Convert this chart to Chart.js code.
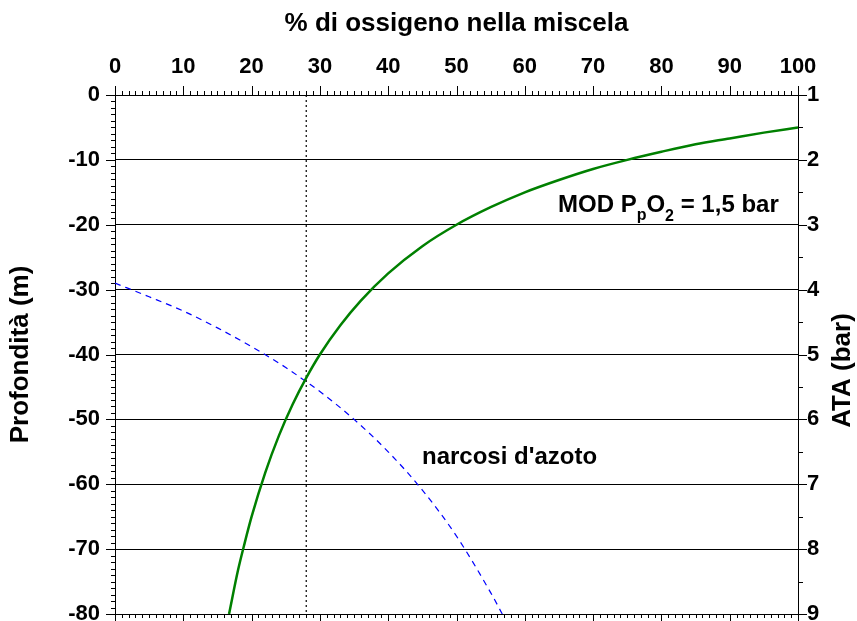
<!DOCTYPE html>
<html><head><meta charset="utf-8">
<script src="https://cdn.jsdelivr.net/npm/chart.js@4.4.1/dist/chart.umd.min.js"></script>
<style>html,body{margin:0;padding:0;background:#fff}</style>
</head><body>
<canvas id="c" width="857" height="621"></canvas>
<script>
// Curve MOD PpO2 = 1,5 bar (O2 % vs depth m)
const modO2 = [16.7, 18, 19, 20, 22, 24, 26, 28, 30, 33, 36, 40, 45, 50, 55, 60, 65, 70, 75, 80, 85, 90, 95, 100];
const modDepth = [-80, -73.3, -69, -65, -58.2, -52.5, -47.7, -43.6, -40, -35.5, -31.7, -27.5, -23.3, -20, -17.3, -15, -13.1, -11.4, -10, -8.75, -7.6, -6.7, -5.8, -5];
// Curve "narcosi d'azoto"
const narcO2 = [0, 5, 10, 15, 20, 25, 28, 30, 35, 40, 45, 50, 55, 56.7];
const narcDepth = [-29, -31.1, -33.3, -35.9, -38.8, -42, -44.2, -45.7, -50, -55, -60.9, -68, -76.7, -80];
// Vertical reference line at 28 %
const refO2 = [28, 28];
const refDepth = [0, -80];
// Tick labels
const o2Ticks = [0, 10, 20, 30, 40, 50, 60, 70, 80, 90, 100];
const depthTicks = [0, -10, -20, -30, -40, -50, -60, -70, -80];
const ataTicks = [1, 2, 3, 4, 5, 6, 7, 8, 9];
// Texts
const titleX = '% di ossigeno nella miscela';
const titleY = 'Profondità (m)';
const titleY2 = 'ATA (bar)';
const labelNarc = "narcosi d'azoto";

const FF = '"Liberation Sans", Arial, sans-serif';
const pts = (xs, ys) => xs.map((v, i) => ({x: v, y: ys[i]}));
const setTicks = arr => s => { s.ticks = arr.map(v => ({value: v})); };
const noPad = s => { s.paddingTop = 0; s.paddingBottom = 0; s.paddingLeft = 0; s.paddingRight = 0; };

const decor = {
  id: 'decor',
  afterDraw(chart) {
    const {ctx, chartArea: a, scales: {x, y, y2}} = chart;
    ctx.save();
    ctx.strokeStyle = '#000';
    ctx.lineWidth = 1;
    ctx.beginPath();
    for (let v = 0; v <= 100; v++) {
      const px = Math.round(x.getPixelForValue(v)) + 0.5;
      const L = v % 10 === 0 ? 9 : 4;
      ctx.moveTo(px, a.top); ctx.lineTo(px, a.top - L);
      ctx.moveTo(px, a.bottom); ctx.lineTo(px, a.bottom + L);
    }
    for (let v = 0; v >= -80; v--) {
      const py = Math.round(y.getPixelForValue(v)) + 0.5;
      const L = v % 10 === 0 ? 9 : 4;
      ctx.moveTo(a.left, py); ctx.lineTo(a.left - L, py);
    }
    for (let v = 1; v <= 9; v += 0.5) {
      const py = Math.round(y2.getPixelForValue(v)) + 0.5;
      const L = Number.isInteger(v) ? 9 : 5;
      ctx.moveTo(a.right, py); ctx.lineTo(a.right + L, py);
    }
    ctx.stroke();

    ctx.fillStyle = '#000';
    // Right axis title, reading bottom to top
    ctx.save();
    ctx.translate(843, (a.top + a.bottom) / 2 + 16);
    ctx.rotate(-Math.PI / 2);
    ctx.font = 'bold 26px ' + FF;
    ctx.textAlign = 'center';
    ctx.textBaseline = 'middle';
    ctx.fillText(titleY2, 0, 0);
    ctx.restore();

    // MOD label with subscripts
    ctx.textAlign = 'left';
    ctx.textBaseline = 'alphabetic';
    const big = 'bold 24px ' + FF, small = 'bold 16px ' + FF;
    let cx = 558; const by = 212;
    const part = (t, f, dy) => { ctx.font = f; ctx.fillText(t, cx, by + dy); cx += ctx.measureText(t).width; };
    part('MOD P', big, 0);
    part('p', small, 8);
    part('O', big, 0);
    part('2', small, 9);
    part(' = 1,5 bar', big, 0);

    ctx.font = big;
    ctx.fillText(labelNarc, 422, 464);
    ctx.restore();
  }
};

new Chart(document.getElementById('c'), {
  type: 'scatter',
  data: {
    datasets: [
      {data: pts(modO2, modDepth), showLine: true, borderColor: '#008000', borderWidth: 2.5, pointRadius: 0, cubicInterpolationMode: 'monotone', xAxisID: 'x', yAxisID: 'y'},
      {data: pts(narcO2, narcDepth), showLine: true, borderColor: '#0000ff', borderWidth: 1.2, borderDash: [6, 5], pointRadius: 0, cubicInterpolationMode: 'monotone', xAxisID: 'x', yAxisID: 'y'},
      {data: pts(refO2, refDepth), showLine: true, borderColor: '#000', borderWidth: 1.2, borderDash: [2, 3], pointRadius: 0, xAxisID: 'x', yAxisID: 'y'}
    ]
  },
  options: {
    responsive: false,
    devicePixelRatio: 1,
    animation: false,
    events: [],
    layout: {padding: 0},
    plugins: {legend: {display: false}, tooltip: {enabled: false}},
    scales: {
      x: {
        type: 'linear', position: 'top', min: 0, max: 100,
        afterBuildTicks: setTicks(o2Ticks),
        ticks: {color: '#000', font: {family: FF, size: 22, weight: 'bold'}, padding: 15, maxRotation: 0, autoSkip: false},
        grid: {drawOnChartArea: false, drawTicks: false},
        border: {color: '#000', width: 1},
        title: {display: true, text: titleX, color: '#000', font: {family: FF, size: 26, weight: 'bold'}, padding: {top: 8, bottom: 0}},
        afterFit: s => { noPad(s); s.height = 95; }
      },
      x2: {
        type: 'linear', position: 'bottom', min: 0, max: 100,
        ticks: {display: false},
        grid: {drawOnChartArea: false, drawTicks: false},
        border: {color: '#000', width: 1},
        afterFit: s => { noPad(s); s.height = 7; }
      },
      y: {
        type: 'linear', position: 'left', min: -80, max: 0,
        afterBuildTicks: setTicks(depthTicks),
        ticks: {color: '#000', font: {family: FF, size: 22, weight: 'bold'}, padding: 15, autoSkip: false},
        grid: {color: '#000', lineWidth: 1, drawTicks: false},
        border: {color: '#000', width: 1},
        title: {display: true, text: titleY, color: '#000', font: {family: FF, size: 26, weight: 'bold'}, padding: {top: 5, bottom: 0}},
        afterFit: s => { noPad(s); s.width = 115; }
      },
      y2: {
        type: 'linear', position: 'right', min: 1, max: 9, reverse: true,
        afterBuildTicks: setTicks(ataTicks),
        ticks: {color: '#000', font: {family: FF, size: 22, weight: 'bold'}, padding: 9, autoSkip: false},
        grid: {drawOnChartArea: false, drawTicks: false},
        border: {color: '#000', width: 1},
        afterFit: s => { noPad(s); s.width = 59; }
      }
    }
  },
  plugins: [decor]
});
</script>
</body></html>
